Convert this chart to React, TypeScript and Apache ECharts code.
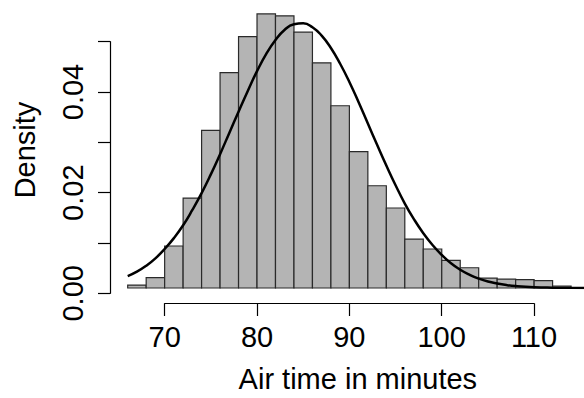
import React, { useEffect, useRef } from "react";
import * as echarts from "echarts";

// Histogram bin breaks (minutes) and densities
const binStarts = [66, 68, 70, 72, 74, 76, 78, 80, 82, 84, 86, 88, 90, 92, 94, 96, 98, 100, 102, 104, 106, 108, 110, 112];
const binWidth = 2;
const densities = [0.0006, 0.0021, 0.0085, 0.0182, 0.0319, 0.0436, 0.0509, 0.0555, 0.0551, 0.0518, 0.0456, 0.0369, 0.0276, 0.0207, 0.0162, 0.0099, 0.0079, 0.0056, 0.0041, 0.0020, 0.0018, 0.0017, 0.0015, 0.0004];

// Fitted density curve
const curveX = [66, 67, 68, 69, 70, 71, 72, 73, 74, 75, 76, 77, 78, 79, 80, 81, 82, 83, 84, 85, 86, 87, 88, 89, 90, 91, 92, 93, 94, 95, 96, 97, 98, 99, 100, 101, 102, 103, 104, 105, 106, 107, 108, 110, 112, 114, 116];
const curveY = [0.0024, 0.0033, 0.0045, 0.0060, 0.0079, 0.0101, 0.0127, 0.0158, 0.0192, 0.0230, 0.0271, 0.0314, 0.0357, 0.0399, 0.0439, 0.0474, 0.0502, 0.0523, 0.0534, 0.0536, 0.0528, 0.0511, 0.0486, 0.0454, 0.0417, 0.0376, 0.0333, 0.0290, 0.0248, 0.0208, 0.0171, 0.0139, 0.0111, 0.0087, 0.0067, 0.0050, 0.0037, 0.0027, 0.0019, 0.0013, 0.0009, 0.0006, 0.0004, 0.00017, 0.00007, 0.00003, 0.00001];

// Axis ticks
const xTickMin = 70;
const xTickMax = 110;
const xTickStep = 10;
const yTickMax = 0.05;
const yTickStep = 0.01;
const yLabelled = ["0.00", "0.02", "0.04"];

const FONT = "'Liberation Sans', Arial, sans-serif";

export default function App() {
  const ref = useRef<HTMLDivElement>(null);
  useEffect(() => {
    if (!ref.current) return;
    const chart = echarts.init(ref.current, undefined, { renderer: "svg" });
    const histData = binStarts.map((s, i) => [s, s + binWidth, densities[i]]);
    const curveData = curveX.map((x, i) => [x, curveY[i]]);
    chart.setOption({
      animation: false,
      backgroundColor: "#ffffff",
      grid: [
        { left: 127.7, top: 0, width: 456.3, height: 293.3 },
        { left: 164.7, top: 290, width: 369.3, height: 13.3 },
        { left: 110, top: 41.7, width: 10, height: 251.6 },
      ],
      xAxis: [
        {
          gridIndex: 0,
          type: "value",
          min: 66,
          max: 115.4,
          axisLine: { show: false },
          axisTick: { show: false },
          axisLabel: { show: false },
          splitLine: { show: false },
          name: "Air time in minutes",
          nameLocation: "middle",
          nameGap: 76,
          nameTextStyle: { fontFamily: FONT, fontSize: 29, color: "#000", padding: [0, 0, 0, 4] },
        },
        {
          gridIndex: 1,
          type: "value",
          min: xTickMin,
          max: xTickMax,
          interval: xTickStep,
          position: "bottom",
          axisLine: { show: true, lineStyle: { color: "#000", width: 1.2 } },
          axisTick: { show: true, length: 12.7, lineStyle: { color: "#000", width: 1.2 } },
          axisLabel: { show: true, margin: 19, fontFamily: FONT, fontSize: 29, color: "#000" },
          splitLine: { show: false },
        },
        {
          gridIndex: 2,
          type: "value",
          show: false,
        },
      ],
      yAxis: [
        {
          gridIndex: 0,
          type: "value",
          min: 0,
          max: 0.05831,
          axisLine: { show: false },
          axisTick: { show: false },
          axisLabel: { show: false },
          splitLine: { show: false },
          name: "Density",
          nameLocation: "middle",
          nameRotate: 90,
          nameGap: 88,
          nameTextStyle: { fontFamily: FONT, fontSize: 29, color: "#000", padding: [0, 12, 0, 0] },
        },
        {
          gridIndex: 1,
          type: "value",
          show: false,
        },
        {
          gridIndex: 2,
          type: "value",
          min: 0,
          max: yTickMax,
          interval: yTickStep,
          position: "left",
          axisLine: { show: true, lineStyle: { color: "#000", width: 1.2 } },
          axisTick: { show: true, length: 12, lineStyle: { color: "#000", width: 1.2 } },
          axisLabel: {
            show: true,
            rotate: 90,
            margin: 23,
            fontFamily: FONT,
            fontSize: 29,
            color: "#000",
            formatter: (v: number) => {
              const s = v.toFixed(2);
              return yLabelled.indexOf(s) >= 0 ? s : "";
            },
          },
          splitLine: { show: false },
        },
      ],
      series: [
        {
          type: "custom",
          xAxisIndex: 0,
          yAxisIndex: 0,
          clip: false,
          data: histData,
          renderItem: (params: any, api: any) => {
            const p0 = api.coord([api.value(0), api.value(2)]);
            const p1 = api.coord([api.value(1), 0]);
            return {
              type: "rect",
              shape: { x: p0[0], y: p0[1], width: p1[0] - p0[0], height: p1[1] - p0[1] },
              style: { fill: "#b4b4b4", stroke: "#2a2a2a", lineWidth: 1.2 },
            };
          },
        },
        {
          type: "line",
          xAxisIndex: 0,
          yAxisIndex: 0,
          data: curveData,
          smooth: true,
          showSymbol: false,
          symbol: "none",
          clip: true,
          lineStyle: { color: "#000", width: 2.5 },
          z: 5,
        },
      ],
    });
    return () => chart.dispose();
  }, []);
  return (
    <div
      ref={ref}
      style={{ position: "fixed", left: 0, top: 0, width: 584, height: 398, background: "#fff" }}
    />
  );
}
